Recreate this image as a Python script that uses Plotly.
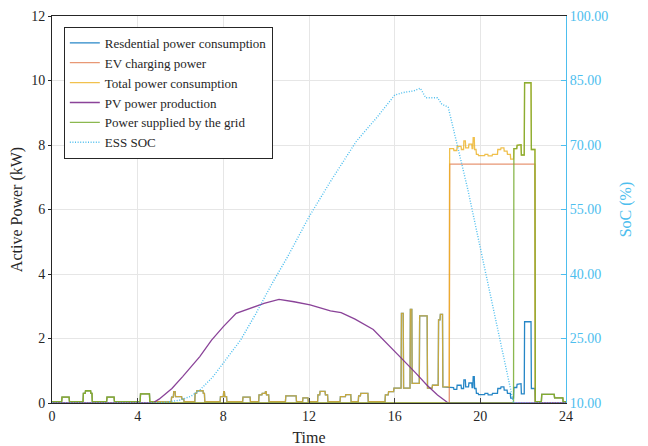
import numpy as np
import plotly.graph_objects as go

# ---------------- data ----------------
# Residential consumption: step profile, value holds from each start time (h)
res_t = [0.0, 0.45, 0.8, 1.45, 1.55, 1.8, 1.88, 2.55, 2.9, 4.12, 4.55,
         5.58, 5.68, 5.75, 6.05, 6.15, 6.68, 6.75, 7.05, 7.12,
         7.85, 8.0, 8.05, 8.15, 8.9, 9.25, 9.65, 9.8, 9.95, 10.0, 10.12,
         10.9, 11.4, 11.7, 11.95, 12.4, 12.5, 12.75, 12.87,
         13.45, 13.7, 13.95, 14.3, 14.4, 14.75,
         15.55, 15.7, 15.95, 16.3, 16.4, 16.72, 16.8, 17.15, 17.52, 17.75,
         18.04, 18.12, 18.24,
         18.55, 18.75, 18.9, 19.1, 19.22, 19.3, 19.45, 19.6, 19.65, 19.72, 19.8,
         19.9, 20.2, 20.35, 20.55, 20.8, 20.95, 21.1, 21.25, 21.4,
         21.55, 21.7, 21.82, 21.9, 22.05, 22.37, 22.55,
         22.85, 23.45, 23.85]
res_v = [0.04, 0.18, 0.04, 0.30, 0.38, 0.30, 0.04, 0.18, 0.04, 0.28, 0.04,
         0.18, 0.35, 0.20, 0.12, 0.04, 0.30, 0.38, 0.30, 0.04,
         0.20, 0.35, 0.20, 0.04, 0.18, 0.04, 0.25, 0.30, 0.35, 0.25, 0.04,
         0.22, 0.04, 0.16, 0.04, 0.25, 0.36, 0.25, 0.04,
         0.20, 0.26, 0.04, 0.22, 0.30, 0.04,
         0.25, 0.35, 0.46, 2.78, 0.46, 2.90, 0.61, 2.70, 0.46, 0.55,
         2.58, 2.75, 0.50,
         0.48, 0.42, 0.55, 0.45, 0.72, 0.50, 0.62, 0.48, 0.82, 0.45, 0.30,
         0.26, 0.30, 0.25, 0.30, 0.45, 0.50, 0.40, 0.30, 0.15,
         0.48, 0.58, 0.60, 0.28, 2.52, 0.45, 0.04,
         0.27, 0.16, 0.04]

# EV charging power: step profile
ev_t = [0.0, 18.55, 22.55]
ev_v = [0.0, 7.41, 0.0]

# Periods in which the grid supplies the load (1) or not (0)
grid_t = [0.0, 4.7, 21.55]
grid_on = [1, 0, 1]

# PV power production (kW)
pv_t = [0, 4.7, 5.0, 5.6, 6.1, 6.9, 7.45, 8.0, 8.6, 9.25, 9.9, 10.6, 11.3,
        12.05, 13.0, 13.5, 14.15, 15.0, 15.8, 16.4, 17.0, 17.5, 18.0, 18.5, 24]
pv_v = [0, 0, 0.12, 0.45, 0.82, 1.44, 1.95, 2.37, 2.78, 2.94, 3.09, 3.21, 3.14,
        3.04, 2.86, 2.80, 2.60, 2.28, 1.75, 1.33, 0.92, 0.56, 0.25, 0, 0]

# ESS state of charge (%)
soc_t = [0, 4.8, 5.5, 6.0, 6.5, 6.9, 7.5, 8.0, 8.8, 9.5, 10.3, 11.0, 12.0,
         13.0, 13.5, 14.2, 15.2, 16.0, 16.4, 16.9, 17.2, 17.45, 18.0, 18.2,
         18.5, 19.4, 21.55, 24]
soc_v = [10, 10, 10.3, 10.7, 11.6, 13.0, 16.0, 19.2, 24.6, 30.6, 38.0, 44.0,
         53.3, 61.5, 65.3, 70.8, 76.6, 81.6, 82.2, 82.6, 83.2, 81.0, 81.0,
         79.5, 78.8, 60.0, 10.0, 10.0]

names = ["Resdential power consumption", "EV charging power",
         "Total power consumption", "PV power production",
         "Power supplied by the grid", "ESS SOC"]

# ---------------- build minute series ----------------
t = np.arange(0, 24 * 60 + 1) / 60.0


def step(bt, bv):
    i = np.searchsorted(np.array(bt) + 1e-9, t, side="right") - 1
    return np.array(bv, dtype=float)[np.clip(i, 0, len(bv) - 1)]


res = step(res_t, res_v)
ev = step(ev_t, ev_v)
total = res + ev
grid = total * step(grid_t, grid_on)

FONT = "Liberation Serif, Times New Roman, serif"
C_BLUE = "#0072BD"
C_ORANGE = "#D95319"
C_YELLOW = "#EDB120"
C_PURPLE = "#7E2F8E"
C_GREEN = "#77AC30"
C_SOC = "#4DBEEE"
TXT = "#262626"

fig = go.Figure()
lw = 1.3
fig.add_trace(go.Scatter(x=t, y=res, mode="lines", name=names[0],
                         line=dict(color=C_BLUE, width=lw), opacity=0.85))
fig.add_trace(go.Scatter(x=t, y=ev, mode="lines", name=names[1],
                         line=dict(color=C_ORANGE, width=lw), opacity=0.6))
fig.add_trace(go.Scatter(x=t, y=total, mode="lines", name=names[2],
                         line=dict(color=C_YELLOW, width=lw), opacity=0.8))
fig.add_trace(go.Scatter(x=pv_t, y=pv_v, mode="lines", name=names[3],
                         line=dict(color=C_PURPLE, width=lw), opacity=0.9))
fig.add_trace(go.Scatter(x=t, y=grid, mode="lines", name=names[4],
                         line=dict(color=C_GREEN, width=lw), opacity=0.85))
fig.add_trace(go.Scatter(x=soc_t, y=soc_v, mode="lines", name=names[5],
                         yaxis="y2",
                         line=dict(color=C_SOC, width=1.4, dash="1px,1.6px")))

fig.update_layout(
    width=648, height=446,
    margin=dict(l=52, r=82, t=16, b=43),
    paper_bgcolor="white", plot_bgcolor="white",
    font=dict(family=FONT, size=14, color=TXT),
    showlegend=True,
    legend=dict(x=0.023, y=0.972, xanchor="left", yanchor="top",
                bgcolor="white", bordercolor=TXT, borderwidth=1,
                font=dict(family=FONT, size=13, color=TXT),
                tracegroupgap=0),
    xaxis=dict(range=[0, 24], tickvals=list(range(0, 25, 4)),
               automargin=False,
               showgrid=True, gridcolor="#e6e6e6", gridwidth=1,
               zeroline=False, showline=True, linecolor=TXT,
               linewidth=1, mirror=True, ticks="inside", ticklen=5,
               tickcolor="#404040",
               tickfont=dict(family=FONT, size=14, color=TXT),
               title=dict(text="Time", standoff=9,
                          font=dict(family=FONT, size=16, color=TXT))),
    yaxis=dict(range=[0, 12], tickvals=list(range(0, 13, 2)),
               automargin=False,
               showgrid=True, gridcolor="#e6e6e6", gridwidth=1,
               zeroline=False, showline=True, linecolor=TXT,
               linewidth=1, ticks="outside", ticklen=3,
               tickcolor=TXT,
               tickfont=dict(family=FONT, size=14, color=TXT),
               title=dict(text="Active Power (kW)", standoff=4,
                          font=dict(family=FONT, size=16, color=TXT))),
    yaxis2=dict(range=[10, 100], tickvals=list(range(10, 101, 15)),
                automargin=False,
                tickformat=".2f", overlaying="y", side="right",
                showgrid=False, zeroline=False, showline=True,
                linecolor=C_SOC, linewidth=1, ticks="inside", ticklen=5,
                tickcolor=C_SOC,
                tickfont=dict(family=FONT, size=14, color=C_SOC),
                title=dict(text="SoC (%)", standoff=12,
                           font=dict(family=FONT, size=16, color=C_SOC))),
)

fig.write_html("out.html")
